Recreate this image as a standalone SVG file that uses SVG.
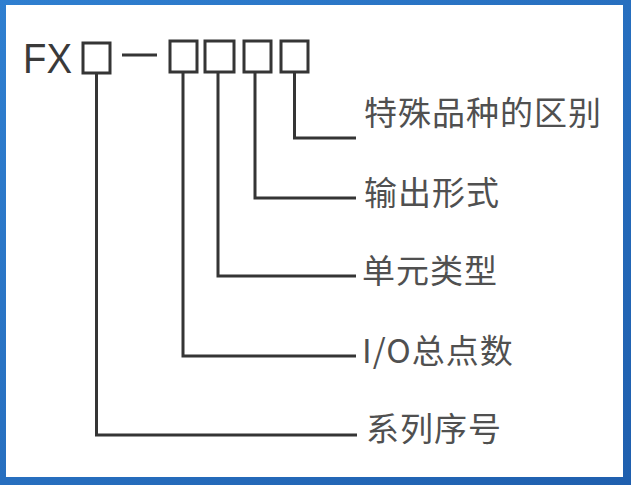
<svg xmlns="http://www.w3.org/2000/svg" width="631" height="485" viewBox="0 0 631 485">
<defs>
<linearGradient id="bg" x1="0" y1="0" x2="1" y2="1">
<stop offset="0" stop-color="#2f7fd0"/>
<stop offset="1" stop-color="#1f5fae"/>
</linearGradient>
</defs>
<style>
.box{fill:none;stroke:#353535;stroke-width:3}
.ln{fill:none;stroke:#353535;stroke-width:3}
.lbl{font-family:"Noto Sans CJK SC","Noto Sans",sans-serif;font-size:33px;fill:#505050;letter-spacing:1px}
.code{font-family:"Liberation Sans",Arial,sans-serif;font-size:43px;fill:#3a3a3a}
</style>
<rect x="0" y="0" width="631" height="485" fill="url(#bg)"/>
<rect x="6" y="5" width="617" height="472" fill="#ffffff"/>
<g id="code">
<text class="code" x="23" y="73" textLength="49" lengthAdjust="spacingAndGlyphs">FX</text>
<rect class="box" x="83" y="43" width="27" height="30"/>
<line class="ln" x1="122" y1="55" x2="157" y2="55"/>
<rect class="box" x="170" y="41" width="27" height="31"/>
<rect class="box" x="205" y="41" width="29" height="31"/>
<rect class="box" x="244" y="41" width="27" height="31"/>
<rect class="box" x="281" y="41" width="27" height="31"/>
</g>
<g id="connectors">
<polyline class="ln" points="294.5,72 294.5,138 356,138"/>
<polyline class="ln" points="255,72 255,198 356,198"/>
<polyline class="ln" points="218,72 218,276 356,276"/>
<polyline class="ln" points="183,72 183,356 356,356"/>
<polyline class="ln" points="96.5,73 96.5,435 357,435"/>
</g>
<g id="n-special"><text class="lbl" x="364" y="125">特殊品种的区别</text></g>
<g id="n-output"><text class="lbl" x="364" y="205">输出形式</text></g>
<g id="n-unit"><text class="lbl" x="362" y="283">单元类型</text></g>
<g id="n-io"><text class="lbl" x="362" y="363">I/O总点数</text></g>
<g id="n-series"><text class="lbl" x="366" y="441">系列序号</text></g>
</svg>
